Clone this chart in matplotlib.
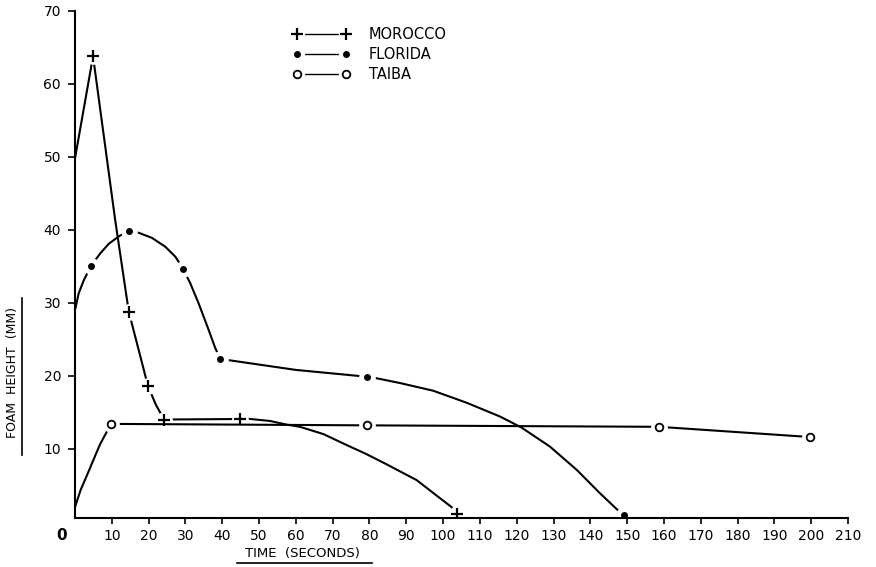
import matplotlib
matplotlib.use("Agg")
import matplotlib.pyplot as plt
from matplotlib.lines import Line2D
from matplotlib.legend_handler import HandlerTuple

plt.rcParams['font.family'] = ['DejaVu Sans']

# values
# Morocco: line trace and the points carrying a "+" marker
morocco_t = [0, 4.9, 10.9, 14.6, 18.7, 19.8, 22.0, 24.2, 44.8, 47.1, 53, 57.5, 61.1, 67.5,
             73.8, 79, 84.5, 92.8, 99.2, 102.3, 103.7]
morocco_h = [49.8, 63.8, 41.4, 28.8, 20.8, 18.6, 16.0, 14.0, 14.07, 14.1, 13.8, 13.3, 13.0, 12.0,
             10.5, 9.3, 7.9, 5.7, 3.2, 2.0, 1.05]
morocco_pt_t = [4.9, 14.6, 19.8, 24.2, 44.8, 103.7]
morocco_pt_h = [63.8, 28.8, 18.6, 14.0, 14.07, 1.05]

# Florida
florida_t = [0.1, 1.0, 2.4, 4.4, 6.9, 9.2, 11.9, 14.6, 17.3, 20.9, 24.5, 27.3, 29.3, 31.3,
             33.6, 36.3, 38.1, 39.5, 60, 79.2, 81.5, 88.3, 97.3, 106.4, 115.5, 121.3,
             129.0, 136.3, 142.6, 147.2, 149.1]
florida_h = [29.2, 31.3, 33.1, 35.1, 36.8, 38.1, 39.1, 39.9, 39.6, 38.9, 37.7, 36.3, 34.7, 32.7,
             29.9, 26.3, 23.8, 22.3, 20.8, 19.87, 19.7, 19.0, 17.95, 16.3, 14.4, 12.9,
             10.3, 7.1, 3.9, 1.7, 0.87]
florida_pt_t = [4.4, 14.6, 29.3, 39.5, 79.2, 149.1]
florida_pt_h = [35.1, 39.9, 34.7, 22.3, 19.87, 0.87]

# Taiba
taiba_t = [0, 1.5, 3.2, 6.8, 9.8, 79.2, 158.7, 199.7]
taiba_h = [2.0, 4.3, 6.3, 10.6, 13.4, 13.2, 13.0, 11.6]
taiba_pt_t = [9.8, 79.2, 158.7, 199.7]
taiba_pt_h = [13.4, 13.2, 13.0, 11.6]

x_ticks = list(range(10, 211, 10))
y_ticks = list(range(10, 71, 10))

fig = plt.figure(figsize=(8.76, 5.67), dpi=100)
ax = fig.add_axes([75 / 876, 1 - 518 / 567, (848 - 75) / 876, (518 - 11) / 567])

series = [
    ("MOROCCO", morocco_t, morocco_h, morocco_pt_t, morocco_pt_h,
     dict(marker='+', ms=8, mew=1.6, color='black')),
    ("FLORIDA", florida_t, florida_h, florida_pt_t, florida_pt_h,
     dict(marker='o', ms=5, mew=0, color='black')),
    ("TAIBA", taiba_t, taiba_h, taiba_pt_t, taiba_pt_h,
     dict(marker='o', ms=5.5, mew=1.3, color='black', mfc='white')),
]

handles = []
labels = []
for i, (name, t, h, pt_t, pt_h, mk) in enumerate(series):
    z = 2 + i
    ax.plot(t, h, color='black', lw=1.5, solid_joinstyle='round', solid_capstyle='round', zorder=z)
    # white patch under each marker leaves the small gap seen in the drawing
    ax.plot(pt_t, pt_h, ls='none', marker='o', ms=11, mfc='white', mec='white', zorder=z + 0.3)
    ax.plot(pt_t, pt_h, ls='none', zorder=z + 0.6, **mk)

    h_line = Line2D([], [], color='black', lw=1.0)
    h_gap = Line2D([], [], ls='none', marker='o', ms=10, mfc='white', mec='white')
    h_mark = Line2D([], [], ls='none', **mk)
    handles.append((h_line, h_gap, h_mark))
    labels.append(name)

ax.set_xlim(0, 210)
ax.set_ylim(0.5, 70)
ax.set_xticks(x_ticks)
ax.set_xticklabels([str(v) for v in x_ticks])
ax.set_yticks(y_ticks)
ax.set_yticklabels([str(v) for v in y_ticks])

for s in ['top', 'right']:
    ax.spines[s].set_visible(False)
for s in ['left', 'bottom']:
    ax.spines[s].set_linewidth(1.5)
    ax.spines[s].set_zorder(10)

ax.tick_params(axis='x', direction='out', length=4, width=1.2, pad=4, labelsize=10)
ax.tick_params(axis='y', direction='out', length=5, width=1.2, pad=5, labelsize=10)

fig.text(62 / 876, 1 - 535 / 567, "0", fontsize=11, fontweight='bold', ha='center', va='center')

leg = fig.legend(handles, labels, handler_map={tuple: HandlerTuple(ndivide=1, pad=0)},
                 loc='upper left', bbox_to_anchor=(293 / 876, 1 - 27 / 567),
                 frameon=False, numpoints=2, fontsize=10.5, handlelength=3.9,
                 handletextpad=1.3, labelspacing=0.35, borderpad=0, borderaxespad=0)

# axis titles, underlined as in the drawing
fig.text(302 / 876, 1 - 553 / 567, "TIME  (SECONDS)", fontsize=9.5, ha='center', va='center')
fig.add_artist(Line2D([237 / 876, 372 / 876], [1 - 563 / 567, 1 - 563 / 567], color='black', lw=1.2))
fig.text(13 / 876, 1 - 372 / 567, "FOAM  HEIGHT  (MM)", fontsize=9, rotation=90,
         ha='center', va='center')
fig.add_artist(Line2D([22 / 876, 22 / 876], [1 - 298 / 567, 1 - 455 / 567], color='black', lw=1.2))

fig.savefig("out.png", dpi=100)
